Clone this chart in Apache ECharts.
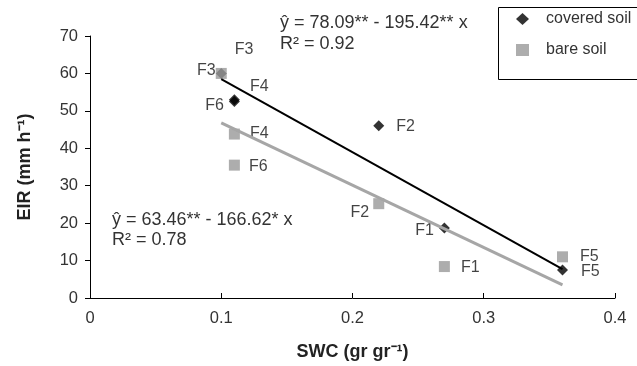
<!DOCTYPE html>
<html>
<head>
<meta charset="utf-8">
<script src="https://cdn.jsdelivr.net/npm/echarts@6/dist/echarts.min.js"></script>
<style>
  html, body { margin: 0; padding: 0; background: #fff; }
  #main { width: 637px; height: 366px; }
</style>
</head>
<body>
<div id="main"></div>
<script>
// points: [SWC, EIR, plot name]
const coveredSoil = [
  [0.10, 60, "F3"],
  [0.11, 53, "F4"],
  [0.11, 52.5, "F6"],
  [0.22, 46, "F2"],
  [0.27, 18.7, "F1"],
  [0.36, 7.5, "F5"]
];
const bareSoil = [
  [0.10, 60, "F3"],
  [0.11, 43.8, "F4"],
  [0.11, 35.5, "F6"],
  [0.22, 25.2, "F2"],
  [0.27, 8.4, "F1"],
  [0.36, 11, "F5"]
];
// fitted lines, end points
const coveredFit = [[0.10, 58.5], [0.36, 7.7]];
const bareFit = [[0.10, 46.8], [0.36, 3.5]];
const xTicks = [0, 0.1, 0.2, 0.3, 0.4];
const yTicks = [0, 10, 20, 30, 40, 50, 60, 70];

// where each point's name sits (pixel offsets from the marker)
const coveredLabelPos = {
  F3: { position: "right", offset: [4, -24] },
  F4: { position: "right", offset: [6, -13] },
  F6: { position: "left", offset: [-1, 4] },
  F2: { position: "right", offset: [8, 1] },
  F1: { position: "left", offset: [-1, 3] },
  F5: { position: "right", offset: [9, 2] }
};
const bareLabelPos = {
  F3: { position: "left", offset: [4, -3] },
  F4: { position: "right", offset: [6, 0] },
  F6: { position: "right", offset: [5, 1] },
  F2: { position: "left", offset: [0, 9] },
  F1: { position: "right", offset: [7, 1] },
  F5: { position: "right", offset: [8, 0] }
};

function toItems(points, spots) {
  return points.map(function (p) {
    const s = spots[p[2]];
    return {
      value: [p[0], p[1]],
      name: p[2],
      label: { show: true, formatter: p[2], position: s.position, offset: s.offset }
    };
  });
}

var myChart = echarts.init(document.getElementById("main"));
const font = "Liberation Sans, Arial, sans-serif";
const labelStyle = { fontFamily: font, fontSize: 16, color: "#141414", distance: 4 };

option = {
  animation: false,
  textStyle: { fontFamily: font },
  grid: { left: 90, right: 22, top: 36, bottom: 68 },
  legend: {
    orient: "vertical",
    left: 516,
    top: 10,
    padding: 0,
    itemGap: 13,
    itemWidth: 13,
    itemHeight: 12,
    data: [
      { name: "covered soil", icon: "diamond" },
      { name: "bare soil", icon: "rect" }
    ],
    textStyle: { fontFamily: font, fontSize: 16, color: "#333", lineHeight: 18, padding: [0, 0, 0, 12] }
  },
  xAxis: {
    type: "value",
    min: 0,
    max: 0.4,
    interval: 0.1,
    name: "SWC (gr gr\u207B\u00B9)",
    nameLocation: "middle",
    nameGap: 45,
    nameTextStyle: { fontFamily: font, fontSize: 18, fontWeight: "bold", color: "#222" },
    axisLine: { lineStyle: { color: "#000", width: 1 } },
    axisTick: { inside: true, length: 5, lineStyle: { color: "#000" } },
    splitLine: { show: false },
    axisLabel: {
      fontFamily: font, fontSize: 16.5, color: "#333", margin: 12,
      formatter: function (v) { return xTicks.indexOf(Math.round(v * 10) / 10) >= 0 ? String(Math.round(v * 10) / 10) : ""; }
    }
  },
  yAxis: {
    type: "value",
    min: 0,
    max: 70,
    interval: 10,
    name: "EIR (mm h\u207B\u00B9)",
    nameLocation: "middle",
    nameGap: 56,
    nameTextStyle: { fontFamily: font, fontSize: 18, fontWeight: "bold", color: "#222" },
    axisLine: { show: true, lineStyle: { color: "#000", width: 1 } },
    axisTick: { show: true, length: 5, lineStyle: { color: "#000" } },
    splitLine: { show: false },
    axisLabel: {
      fontFamily: font, fontSize: 16.5, color: "#333", margin: 12,
      formatter: function (v) { return yTicks.indexOf(v) >= 0 ? String(v) : ""; }
    }
  },
  series: [
    {
      type: "line",
      data: bareFit,
      symbol: "none",
      silent: true,
      lineStyle: { color: "#a6a6a6", width: 3 }
    },
    {
      type: "line",
      data: coveredFit,
      symbol: "none",
      silent: true,
      lineStyle: { color: "#000", width: 2 }
    },
    {
      name: "covered soil",
      type: "scatter",
      symbol: "diamond",
      symbolSize: 11,
      itemStyle: { color: "#000" },
      label: labelStyle,
      data: toItems(coveredSoil, coveredLabelPos)
    },
    {
      name: "bare soil",
      type: "scatter",
      symbol: "rect",
      symbolSize: 11,
      itemStyle: { color: "#999" },
      label: labelStyle,
      data: toItems(bareSoil, bareLabelPos)
    }
  ],
  graphic: [
    {
      type: "rect",
      left: 496,
      top: 5,
      shape: { width: 150, height: 72 },
      style: { fill: "none", stroke: "#000", lineWidth: 1 },
      z: 0
    },
    {
      type: "text",
      left: 280,
      top: 13,
      style: { text: "\u0177 = 78.09** - 195.42** x\nR\u00B2 = 0.92", fontFamily: font, fontSize: 18, fill: "#333", lineHeight: 21 }
    },
    {
      type: "text",
      left: 112,
      top: 210,
      style: { text: "\u0177 = 63.46** - 166.62* x\nR\u00B2 = 0.78", fontFamily: font, fontSize: 18, fill: "#333", lineHeight: 20 }
    }
  ]
};

myChart.setOption(option);
</script>
</body>
</html>
